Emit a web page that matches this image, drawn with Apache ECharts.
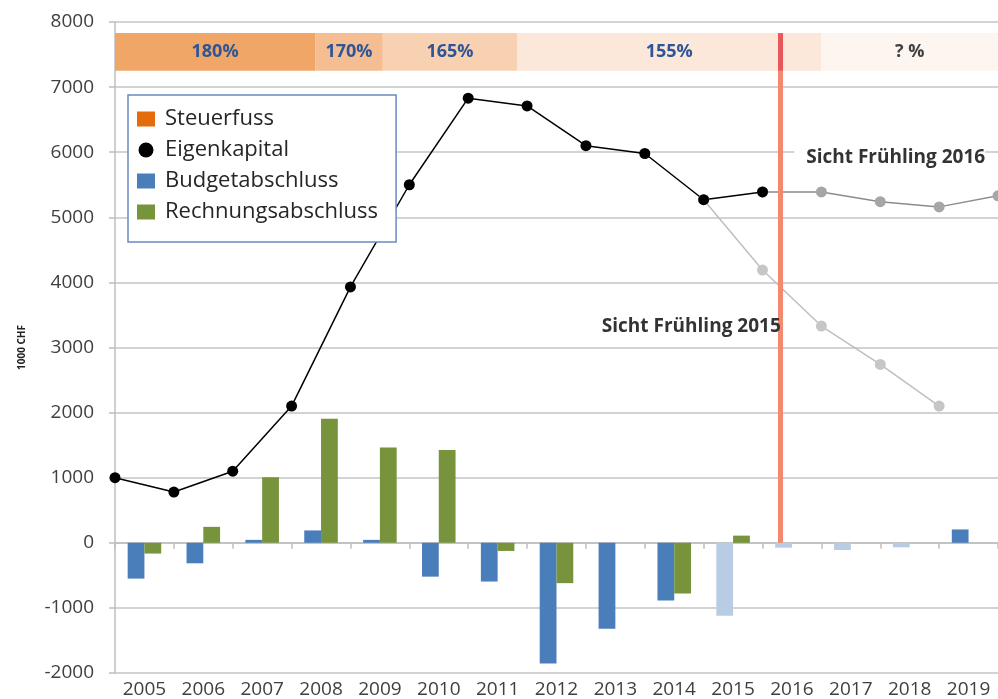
<!DOCTYPE html>
<html>
<head>
<meta charset="utf-8">
<script src="https://cdn.jsdelivr.net/npm/echarts@6/dist/echarts.min.js"></script>
<style>
  html, body { margin: 0; padding: 0; background: #fff; }
  #chart { width: 998px; height: 699px; }
</style>
</head>
<body>
<div id="chart"></div>
<script>
// categories
const years = ["2005", "2006", "2007", "2008", "2009", "2010", "2011", "2012", "2013", "2014", "2015", "2016", "2017", "2018", "2019"];

// bars (1000 CHF)
const budgetabschluss = [-550, -315, 45, 190, 45, -520, -595, -1855, -1320, -885, -1120, -75, -110, -70, 205];
const budgetPrognose = ["2015", "2016", "2017", "2018"];
const rechnungsabschluss = [-165, 245, 1005, 1905, 1465, 1425, -125, -620, null, -780, 110, null, null, null, null];

// Eigenkapital sits on the year boundaries (position 0 = start of 2005)
const eigenkapital = [1000, 780, 1100, 2100, 3930, 5500, 6830, 6710, 6100, 5980, 5270, 5390];
const sicht2016Start = 11;
const sicht2016 = [5390, 5390, 5240, 5160, 5330];
const sicht2015Start = 10;
const sicht2015 = [5270, 4190, 3330, 2740, 2100];

// Steuerfuss band, in the same boundary positions
const steuerfussLabels = ["180%", "170%", "165%", "155%", "? %"];
const steuerfussFrom = [-0.05, 3.4, 4.55, 6.83, 12];
const steuerfussTo = [3.4, 4.55, 6.83, 12, 15];
const steuerfussBand = [7250, 7830];

const stichtag = 11.3;
const yTicks = { min: -2000, max: 8000, interval: 1000 };

const bandColors = ["#F0A667", "#F4BE92", "#F7D1B1", "#FBE8DA", "#FDF5EF"];
const font = "'Open Sans', sans-serif";

const chart = echarts.init(document.getElementById("chart"));

const bandData = steuerfussLabels.map((label, i) => [
  {
    xAxis: steuerfussFrom[i],
    yAxis: steuerfussBand[0],
    itemStyle: { color: bandColors[i] },
    label: {
      show: true,
      position: "inside",
      formatter: label,
      fontFamily: font,
      fontWeight: "bold",
      fontSize: 18,
      color: i === 4 ? "#404040" : "#2F5597",
    },
  },
  { xAxis: steuerfussTo[i], yAxis: steuerfussBand[1] },
]);

const note = (text, coord, bg, pad) => ({
  coord: coord,
  symbol: "rect",
  symbolSize: 1,
  itemStyle: { color: "rgba(0,0,0,0)" },
  label: {
    show: true,
    position: "inside",
    formatter: text,
    fontFamily: font,
    fontWeight: "bold",
    fontSize: 19,
    color: "#333",
    backgroundColor: bg,
    padding: pad,
  },
});

const options = {
  animation: false,
  textStyle: { fontFamily: font },
  grid: { left: 115, right: 0, top: 22, bottom: 21.5, containLabel: false },
  legend: {
    orient: "vertical",
    left: 128,
    top: 95,
    backgroundColor: "#fff",
    borderColor: "#6A8AC0",
    borderWidth: 1.5,
    padding: [13, 18, 19, 9],
    itemWidth: 18,
    itemHeight: 15,
    itemGap: 9,
    selectedMode: false,
    textStyle: { fontFamily: font, fontSize: 22, color: "#262626", padding: [0, 0, 0, 5] },
    data: [
      { name: "Steuerfuss", icon: "rect", itemStyle: { color: "#E46C0A" } },
      { name: "Eigenkapital", icon: "circle", itemStyle: { color: "#000" } },
      { name: "Budgetabschluss", icon: "rect", itemStyle: { color: "#4A7EBB" } },
      { name: "Rechnungsabschluss", icon: "rect", itemStyle: { color: "#77933C" } },
    ],
  },
  xAxis: [
    {
      type: "category",
      data: years,
      position: "bottom",
      axisLine: { show: false, onZero: false },
      axisTick: { show: false },
      axisLabel: { fontFamily: font, fontSize: 19, color: "#404040", margin: 7 },
    },
    {
      // zero line with the year ticks hanging below it
      type: "category",
      data: years,
      position: "top",
      axisLine: { show: true, onZero: true, onZeroAxisIndex: 0, lineStyle: { color: "#BFBFBF", width: 1.5 } },
      axisTick: { show: true, inside: true, length: 6, lineStyle: { color: "#BFBFBF", width: 1.5 } },
      axisLabel: { show: false },
    },
    {
      type: "value",
      min: 0,
      max: 15,
      show: false,
    },
  ],
  yAxis: {
    type: "value",
    min: yTicks.min,
    max: yTicks.max,
    interval: yTicks.interval,
    name: "1000 CHF",
    nameLocation: "middle",
    nameRotate: 90,
    nameGap: 88,
    nameTextStyle: { fontFamily: font, fontSize: 10, fontWeight: "bold", color: "#222" },
    axisLine: { show: true, onZero: false, lineStyle: { color: "#BFBFBF", width: 1.5 } },
    axisTick: { show: true, length: 6, lineStyle: { color: "#BFBFBF", width: 1.5 } },
    axisLabel: { fontFamily: font, fontSize: 19, color: "#404040", margin: 21, formatter: (v) => String(v) },
    splitLine: { lineStyle: { color: "#C4C4C4", width: 1.5 } },
  },
  series: [
    {
      name: "Steuerfuss",
      type: "line",
      xAxisIndex: 2,
      data: [],
      itemStyle: { color: "#E46C0A" },
      markArea: { silent: true, data: bandData },
    },
    {
      name: "Budgetabschluss",
      type: "bar",
      xAxisIndex: 0,
      barGap: "0%",
      barCategoryGap: "43%",
      itemStyle: { color: "#4A7EBB" },
      data: budgetabschluss.map((v, i) =>
        budgetPrognose.includes(years[i]) ? { value: v, itemStyle: { color: "#B8CCE4" } } : v
      ),
    },
    {
      name: "Rechnungsabschluss",
      type: "bar",
      xAxisIndex: 0,
      itemStyle: { color: "#77933C" },
      data: rechnungsabschluss,
    },
    {
      name: "Sicht Frühling 2015",
      type: "line",
      xAxisIndex: 2,
      symbol: "circle",
      symbolSize: 11,
      lineStyle: { color: "#BFBFBF", width: 1.5 },
      itemStyle: { color: "#C6C6C6" },
      data: sicht2015.map((v, i) => [sicht2015Start + i, v]),
      markPoint: { silent: true, data: [note("Sicht Frühling 2015", [9.79, 3320], "rgba(0,0,0,0)", 0)] },
    },
    {
      name: "Sicht Frühling 2016",
      type: "line",
      xAxisIndex: 2,
      symbol: "circle",
      symbolSize: 11,
      lineStyle: { color: "#8C8C8C", width: 1.5 },
      itemStyle: { color: "#A6A6A6" },
      data: sicht2016.map((v, i) => [sicht2016Start + i, v]),
      markPoint: { silent: true, data: [note("Sicht Frühling 2016", [13.16, 5910], "#fff", [2, 0, 2, 12])] },
    },
    {
      name: "Eigenkapital",
      type: "line",
      xAxisIndex: 2,
      symbol: "circle",
      symbolSize: 11,
      lineStyle: { color: "#000", width: 1.5 },
      itemStyle: { color: "#000" },
      data: eigenkapital.map((v, i) => [i, v]),
      markLine: {
        silent: true,
        symbol: "none",
        label: { show: false },
        data: [
          [
            { coord: [stichtag, 0], lineStyle: { color: "#F4896F", width: 5, type: "solid" } },
            { coord: [stichtag, steuerfussBand[0]] },
          ],
          [
            { coord: [stichtag, steuerfussBand[0]], lineStyle: { color: "#E9575A", width: 5, type: "solid" } },
            { coord: [stichtag, steuerfussBand[1]] },
          ],
        ],
      },
    },
  ],
};

chart.setOption(options);
</script>
</body>
</html>
